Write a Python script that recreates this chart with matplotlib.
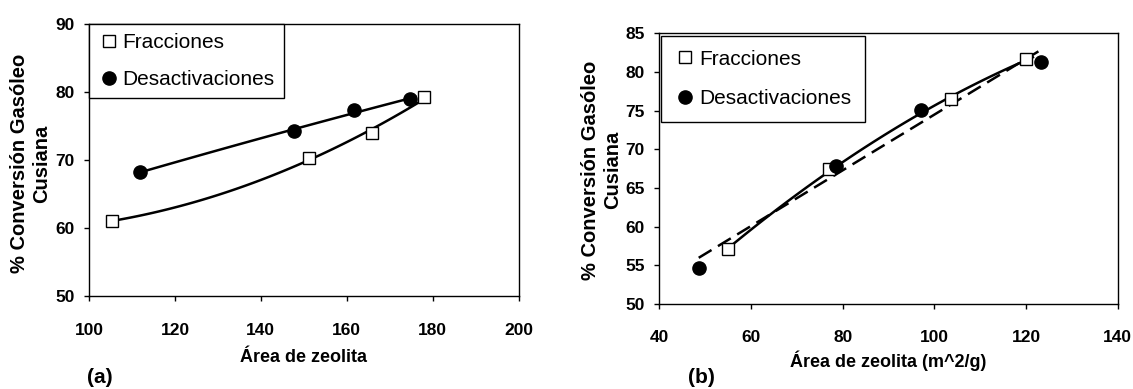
import matplotlib
matplotlib.use("Agg")
import matplotlib.pyplot as plt
import numpy as np

plt.rcParams['font.family'] = ['Liberation Sans', 'DejaVu Sans']

# panel (a)
a_frac_x = [105.3, 151.1, 165.9, 178.0]
a_frac_y = [61.0, 70.3, 74.0, 79.2]
a_des_x = [111.8, 147.7, 161.6, 174.7]
a_des_y = [68.2, 74.25, 77.3, 78.9]

# panel (b)
b_frac_x = [55.0, 77.1, 103.7, 120.1]
b_frac_y = [57.1, 67.45, 76.5, 81.7]
b_des_x = [48.6, 78.5, 97.1, 123.2]
b_des_y = [54.7, 67.9, 75.1, 81.3]

ylabel = "% Conversión Gasóleo\nCusiana"

fig = plt.figure(figsize=(11.33, 3.89), dpi=100)
ax1 = fig.add_axes([0.0786, 0.2391, 0.3791, 0.6992])
ax2 = fig.add_axes([0.5819, 0.2185, 0.4046, 0.6959])


def trend(ax, x, y, deg, ls, x0=None, x1=None):
    c = np.polyfit(x, y, deg)
    xs = np.linspace(min(x) if x0 is None else x0, max(x) if x1 is None else x1, 100)
    ax.plot(xs, np.polyval(c, xs), color='black', lw=1.8, ls=ls, zorder=2)


def style(ax, xlabel, xpad, lpad, lab_xy):
    ax.set_xlabel(xlabel, fontsize=13, fontweight='bold', labelpad=lpad)
    ax.set_ylabel(ylabel, fontsize=14.5, fontweight='bold', linespacing=1.2)
    ax.yaxis.set_label_coords(*lab_xy)
    ax.tick_params(direction='out', length=3.5, width=1, labelsize=12.5)
    ax.tick_params(axis='x', pad=xpad)
    ax.tick_params(axis='y', pad=7)
    for lab in ax.get_xticklabels() + ax.get_yticklabels():
        lab.set_fontweight('bold')
    for s in ax.spines.values():
        s.set_linewidth(1)


def legend(ax, anchor, pad, spacing, htpad):
    leg = ax.legend(loc='upper left', bbox_to_anchor=anchor, fontsize=15,
                    frameon=True, fancybox=False, edgecolor='black', framealpha=1,
                    handletextpad=htpad, handlelength=1.0, borderpad=pad,
                    labelspacing=spacing, borderaxespad=0.0)
    leg.get_frame().set_linewidth(1)


# (a)
trend(ax1, a_frac_x, a_frac_y, 2, '-')
trend(ax1, a_des_x, a_des_y, 2, '-', x1=176)
ax1.plot(a_frac_x, a_frac_y, 's', ms=8, mfc='white', mec='black', mew=1, label='Fracciones', zorder=3)
ax1.plot(a_des_x, a_des_y, 'o', ms=9.5, color='black', label='Desactivaciones', zorder=3)
ax1.set_xlim(100, 200)
ax1.set_ylim(50, 90)
ax1.set_xticks(np.arange(100, 201, 20))
ax1.set_yticks(np.arange(50, 91, 10))
style(ax1, "Área de zeolita", 16, 8, (-0.0885, 0.487))
legend(ax1, (0.0, 1.0), 0.45, 0.85, 0.15)

# (b)
trend(ax2, b_frac_x, b_frac_y, 2, '-', x1=121.5)
trend(ax2, b_des_x, b_des_y, 1, (0, (6, 3)))
ax2.plot(b_frac_x, b_frac_y, 's', ms=8, mfc='white', mec='black', mew=1, label='Fracciones', zorder=3)
ax2.plot(b_des_x, b_des_y, 'o', ms=9.5, color='black', label='Desactivaciones', zorder=3)
ax2.set_xlim(40, 140)
ax2.set_ylim(50, 85)
ax2.set_xticks(np.arange(40, 141, 20))
ax2.set_yticks(np.arange(50, 86, 5))
style(ax2, "Área de zeolita (m^2/g)", 15, 4, (-0.082, 0.495))
legend(ax2, (0.003, 0.99), 0.65, 1.0, 0.2)

fig.text(0.0765, 0.015, "(a)", fontsize=15, fontweight='bold')
fig.text(0.607, 0.015, "(b)", fontsize=15, fontweight='bold')

fig.savefig("out.png", dpi=100)
